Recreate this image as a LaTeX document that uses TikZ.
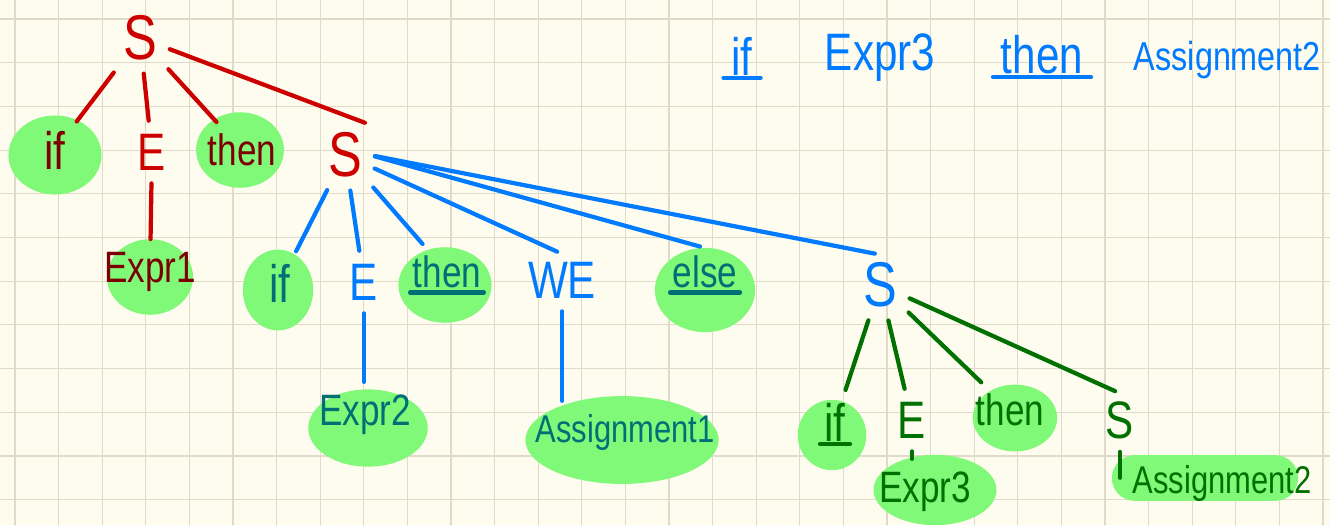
\documentclass[tikz,border=0pt]{standalone}
\usepackage{fontspec}
\setmainfont[FakeStretch=0.8]{Liberation Sans}
\usetikzlibrary{shapes.geometric}
\definecolor{paper}{RGB}{254,252,238}
\definecolor{gridc}{RGB}{224,219,200}
\definecolor{hl}{RGB}{128,248,120}
\definecolor{pred}{RGB}{205,0,0}
\definecolor{pdred}{RGB}{125,0,0}
\definecolor{pblue}{RGB}{0,122,255}
\definecolor{pteal}{RGB}{0,112,118}
\definecolor{pgreen}{RGB}{0,112,0}
\begin{document}
\begin{tikzpicture}[x=0.02cm,y=-0.02cm,line width=2.4pt,line cap=round,
		blob/.style={fill=hl, ellipse, inner sep=0pt},
		big/.style={font=\fontsize{36}{40}\selectfont},
		mid/.style={font=\fontsize{30}{34}\selectfont},
		word/.style={font=\fontsize{25}{29}\selectfont},
		longword/.style={font=\fontsize{22}{26}\selectfont},
		edge/.style={shorten <=3pt, shorten >=3pt}]
			\useasboundingbox (0,0) rectangle (1330,525);
			\clip (0,0) rectangle (1330,525);
			\fill[paper] (0,0) rectangle (1330,525);
			\foreach \i in {0,...,30}
				\draw[gridc, line width=0.6pt] ({15+43.6*\i},0) -- ({15+43.6*\i},525);
			\foreach \j in {0,...,11}
				\draw[gridc, line width=0.6pt] (0,{19+43.7*\j}) -- (1330,{19+43.7*\j});
			\node (bif1) [blob, minimum width=53pt, minimum height=45pt] at (55,155) {};
			\node (bthen1) [blob, minimum width=50pt, minimum height=43pt] at (240,150) {};
			\node (bexpr1) [blob, minimum width=49pt, minimum height=43pt] at (150,277) {};
			\node (bif2) [blob, minimum width=40pt, minimum height=46pt] at (278,290) {};
			\node (bthen2) [blob, minimum width=53pt, minimum height=43pt] at (445,285) {};
			\node (belse) [blob, minimum width=57pt, minimum height=48pt] at (705,290) {};
			\node (bexpr2) [blob, minimum width=68pt, minimum height=44pt] at (368,428) {};
			\node (bassign1) [blob, minimum width=110pt, minimum height=50pt] at (622,440) {};
			\node (bif3) [blob, minimum width=39pt, minimum height=40pt] at (832,435) {};
			\node (bthen3) [blob, minimum width=48pt, minimum height=38pt] at (1015,418) {};
			\node (bexpr3) [blob, minimum width=70pt, minimum height=40pt] at (935,490) {};
			\node (bassign2) [fill=hl, rounded corners=13pt, minimum width=106pt, minimum height=26pt] at (1205,478) {};
			\node (s1) [pred, big] at (140,38) {S};
			\node (if1) [pdred, mid] at (55,150) {if};
			\node (e1) [pred, mid] at (152,152) {E};
			\node (then1) [pdred, word] at (242,150) {then};
			\node (s2) [pred, big] at (345,155) {S};
			\node (expr1) [pdred, word] at (150,272) {Expr1};
			\node (if2) [pteal, mid] at (280,283) {if};
			\node (e2) [pblue, mid] at (364,282) {E};
			\node (then2) [pteal, word] at (447,272) {then};
			\node (we) [pblue, mid] at (562,280) {WE};
			\node (else) [pteal, word] at (705,272) {else};
			\node (s3) [pblue, big] at (880,285) {S};
			\node (expr2) [pteal, word] at (365,415) {Expr2};
			\node (assign1) [pteal, longword] at (625,432) {Assignment1};
			\node (if3) [pgreen, mid] at (835,422) {if};
			\node (e3) [pgreen, mid] at (912,420) {E};
			\node (then3) [pgreen, word] at (1010,410) {then};
			\node (s4) [pgreen, mid] at (1120,420) {S};
			\node (expr3) [pgreen, word] at (925,492) {Expr3};
			\node (assign2) [pgreen, longword] at (1222,483) {Assignment2};
			\node (tif) [pblue, mid] at (742,56) {if};
			\node (texpr) [pblue, mid] at (880,58) {Expr3};
			\node (tthen) [pblue, mid] at (1042,55) {then};
			\node (tassign) [pblue, font=\fontsize{23}{27}\selectfont, anchor=west] at (1126,60) {Assignment2};
			\draw[pred, edge] (s1) -- (if1);
			\draw[pred, edge] (s1) -- (e1);
			\draw[pred, edge] (s1) -- (then1);
			\draw[pred, edge] (s1) -- (s2.north east);
			\draw[pred, edge] (e1) -- (expr1);
			\draw[pblue, edge] (s2) -- (if2);
			\draw[pblue, edge] (s2) -- (e2);
			\draw[pblue, edge] (s2) -- (then2);
			\draw[pblue, edge] (s2) -- (we.north);
			\draw[pblue, edge] (s2.east) -- (else.north);
			\draw[pblue, edge] (s2.east) -- (s3.north);
			\draw[pblue, edge] (e2) -- (e2 |- expr2.north);
			\draw[pblue, edge] (we.south) -- (we.south |- assign1.north);
			\draw[pgreen, edge] (s3) -- (if3);
			\draw[pgreen, edge] (s3) -- (e3);
			\draw[pgreen, edge] (s3) -- (then3);
			\draw[pgreen, edge] (s3) -- (s4.north);
			\draw[pgreen, edge] (e3) -- (e3 |- expr3.north);
			\draw[pgreen, edge] (s4) -- (s4 |- assign2.center);
			\draw[pteal] ([xshift=3pt, yshift=2pt]then2.south west) -- ([xshift=-3pt, yshift=2pt]then2.south east);
			\draw[pteal] ([xshift=3pt, yshift=2pt]else.south west) -- ([xshift=-3pt, yshift=2pt]else.south east);
			\draw[pgreen] ([xshift=2pt, yshift=3pt]if3.south west) -- ([xshift=-2pt, yshift=3pt]if3.south east);
			\draw[pblue] ([yshift=3pt]tif.south west) -- ([yshift=3pt]tif.south east);
			\draw[pblue] ([yshift=3pt]tthen.south west) -- ([yshift=3pt]tthen.south east);
		\end{tikzpicture}
\end{document}
